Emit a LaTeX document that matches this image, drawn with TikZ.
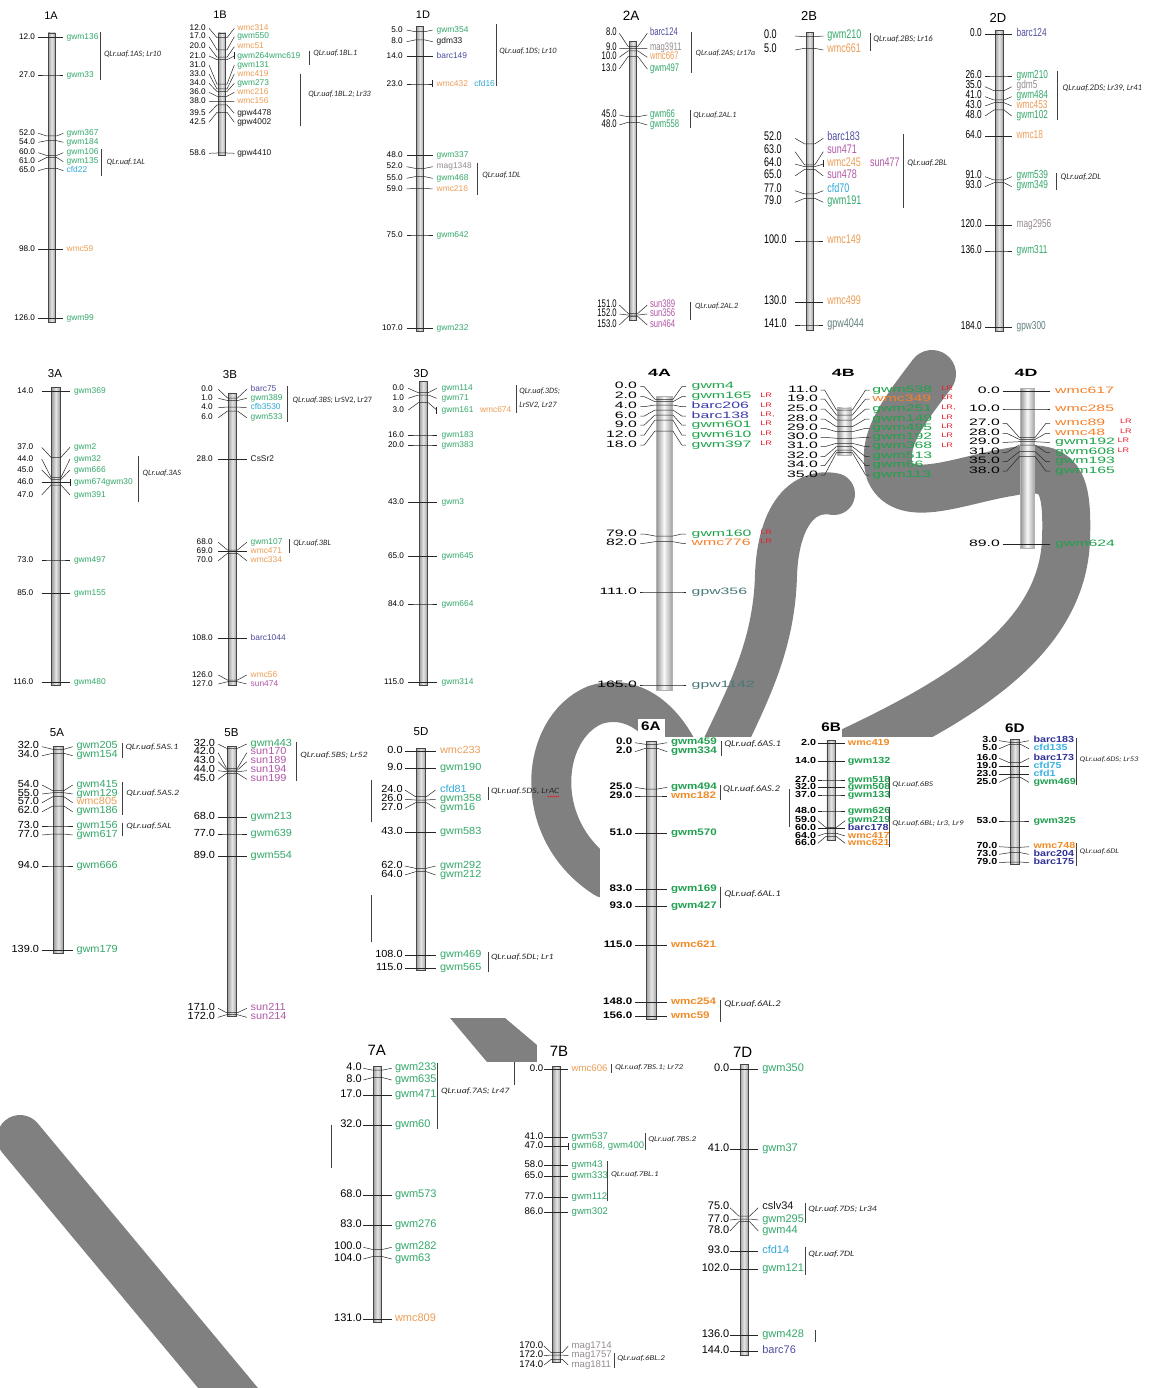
\documentclass[tikz,border=0pt]{standalone}
\usepackage{fontspec}
\usetikzlibrary{decorations.pathmorphing}
\newfontfamily\fA{Liberation Sans}
\newfontfamily\fN[FakeStretch=0.72]{Liberation Sans}
\newfontfamily\fNa[FakeStretch=0.70]{Liberation Sans}
\newfontfamily\fW[FakeStretch=1.7]{Liberation Sans}
\newfontfamily\fLR[FakeStretch=1.4]{Liberation Sans}
\newfontfamily\fB[FakeStretch=1.22]{Liberation Sans}
\newfontfamily\fM[FakeStretch=1.06]{Liberation Sans}
\newfontfamily\fQ{Carlito}
\newfontfamily\fQW[FakeStretch=1.2]{Carlito}
\newcommand\fs[1]{\fontsize{#1}{#1}\selectfont}
\definecolor{cg}{RGB}{52,168,106}
\definecolor{co}{RGB}{236,158,86}
\definecolor{cb}{RGB}{78,78,160}
\definecolor{cs}{RGB}{178,88,168}
\definecolor{cc}{RGB}{48,168,214}
\definecolor{cm}{RGB}{150,140,140}
\definecolor{ck}{RGB}{25,25,25}
\definecolor{ct}{RGB}{100,128,128}
\definecolor{cg4}{RGB}{28,164,74}
\definecolor{co4}{RGB}{246,128,40}
\definecolor{cb4}{RGB}{58,58,170}
\definecolor{ct4}{RGB}{72,120,120}
\definecolor{clr}{RGB}{235,30,40}
\definecolor{cg6}{RGB}{32,160,80}
\definecolor{co6}{RGB}{240,140,40}
\definecolor{cb6}{RGB}{48,48,150}
\definecolor{cc6}{RGB}{60,178,228}
\definecolor{cq}{RGB}{40,40,40}
\definecolor{wmg}{RGB}{128,128,128}
\tikzset{
 mline/.style={draw=black!85,line width=0.5pt},
 qline/.style={draw=black!75,line width=0.7pt},
 lab/.style={inner sep=0pt,outer sep=0pt},
 wmark/.style={draw=wmg,line cap=round},
}
\newcounter{mk}
\def\NA{mid east}\def\HS{0}
\newcommand\setchr[6]{\def\CX{#1}\def\NX{#2}\def\LX{#3}\def\RX{#4}\def\TX{#5}\def\KK{#6}}
\newcommand\mkcore[5]{%
 \stepcounter{mk}%
 \coordinate (ml\themk) at (\LX,#2);%
 \coordinate (mr\themk) at (\RX,#2);%
 \coordinate (bl\themk) at ({\CX-\KK},#1);%
 \coordinate (br\themk) at ({\CX+\KK},#1);%
 \draw[mline] (ml\themk) -- ([xshift=\HS pt]ml\themk) -- (bl\themk) -- (br\themk) -- ([xshift=-\HS pt]mr\themk) -- (mr\themk);%
 \node[lab,font=\numf,anchor=\NA] (mn\themk) at (\NX,#2) {#3};%
 \node[lab,font=\namef,text=#5,anchor=mid west] (mt\themk) at (\TX,#2) {#4};%
}
\newcommand\mk[5]{\mkcore{#1}{#2}{#3}{#4}{#5}}
\newcommand\mkt[5]{\mkcore{#1}{#2}{#3}{#4}{#5}\draw[mline] ([yshift=3.5pt]mr\themk) -- ([yshift=-3.5pt]mr\themk);}
\newcommand\xn[4]{\stepcounter{mk}\node[lab,font=\namef,text=#4,anchor=mid west] (xn\themk) at (#1,#2) {#3};}
\newcommand\lr[3]{\stepcounter{mk}\node[lab,font=\lrf,text=clr,anchor=mid west] (lr\themk) at (#1,{#2-1.5}) {#3};}
\newcommand\qtl[6]{\stepcounter{mk}%
 \coordinate (qa\themk) at (#1,#2); \coordinate (qb\themk) at (#1,#3);%
 \draw[qline] (qa\themk) -- (qb\themk);%
 \node[lab,font=\qf,text=cq,anchor=mid west] (ql\themk) at (#4,#5) {#6};}
\newcommand\ttl[4]{\node[lab,font=#4] (ttl#3) at (#1,#2) {#3};}
\newcommand\chbar[4]{\shade[left color=gray!75,right color=gray!75,middle color=gray!20] (#1,#3) rectangle (#2,#4);
 \draw[gray!55!black,line width=0.5pt] (#1,#3) rectangle (#2,#4);}
\newcommand\chbarB[4]{\shade[left color=gray!85,right color=gray!70,middle color=gray!5] (#1,#3) rectangle (#2,#4);
 \draw[gray!60,line width=0.4pt] (#1,#3) rectangle (#2,#4);}
\newcommand\sline[3]{\stepcounter{mk}\coordinate (sa\themk) at (#1,#2); \coordinate (sb\themk) at (#1,#3); \draw[qline] (sa\themk) -- (sb\themk);}
\begin{document}
\begin{tikzpicture}[x=1pt,y=-1pt]
\useasboundingbox (0,0) rectangle (1149,1388);
\fill[white] (0,0) rectangle (1149,1388);
% ================= WATERMARK (background) =================
\draw[wmark,line width=46pt] (20,1138) -- (253,1418);
\draw[wmark,line width=48pt] (932,374) .. controls (905,410) and (880,440) .. (890,472)
   .. controls (905,505) and (960,480) .. (1010,472)
   .. controls (1060,462) and (1068,480) .. (1066,540)
   .. controls (1062,640) and (960,700) .. (850,752);
\draw[wmark,line width=42pt] (834,494) .. controls (800,488) and (778,520) .. (776,575)
   .. controls (774,650) and (745,700) .. (712,770);
\draw[wmark,line width=40pt] (690,780) .. controls (672,722) and (635,692) .. (595,705)
   .. controls (540,728) and (530,830) .. (605,878);
\fill[wmg] (450,1018) -- (505,1018) -- (537,1045) -- (537,1062) -- (487,1062) -- cycle;
% panel backgrounds cutting the watermark
\fill[white] (600,737) rectangle (1149,1030);
\fill[white] (638,719) rectangle (665,737);
\fill[white] (822,719) rectangle (842,737);
\fill[white] (487,1062) rectangle (700,1388);
\fill[white] (537,1030) rectangle (585,1062);
% ================= ROW 1 =================
\def\numf{\fA\fs{8.2}}\def\namef{\fA\fs{8.4}}\def\qf{\fQ\itshape\fs{8.2}}
% ---- 1A
\setchr{51.7}{35}{38.3}{63.3}{66.7}{5}
\ttl{51}{16}{1A}{\fA\fs{11}}
\chbar{48.2}{55.2}{33}{322}
\mk{37.3}{37.3}{12.0}{gwm136}{cg}
\mk{75}{75}{27.0}{gwm33}{cg}
\mk{136}{133.3}{52.0}{gwm367}{cg}
\mk{140.7}{142.3}{54.0}{gwm184}{cg}
\mk{155.5}{152.7}{60.0}{gwm106}{cg}
\mk{157.5}{161.7}{61.0}{gwm135}{cg}
\mk{168.3}{170.7}{65.0}{cfd22}{cc}
\mk{249.3}{249.3}{98.0}{wmc59}{co}
\mk{318.3}{318.3}{126.0}{gwm99}{cg}
\qtl{100.7}{32.3}{80}{104}{54}{QLr.uaf.1AS; Lr10}
\qtl{101.7}{149}{176}{106.7}{162.7}{QLr.uaf.1AL}
% ---- 1B
\setchr{222}{205.7}{209}{234.3}{237.3}{5}
\ttl{220}{15}{1B}{\fA\fs{11}}
\chbar{218.3}{225.7}{33}{155}
\mk{37.7}{28.3}{12.0}{wmc314}{co}
\mk{49.9}{36.7}{17.0}{gwm550}{cg}
\mk{57.2}{46.7}{20.0}{wmc51}{co}
\mkt{59.7}{56}{21.0}{gwm264wmc619}{cg}
\mk{84.2}{65}{31.0}{gwm131}{cg}
\mk{89}{74}{33.0}{wmc419}{co}
\mk{91.5}{83.3}{34.0}{gwm273}{cg}
\mk{96.3}{92.3}{36.0}{wmc216}{co}
\mk{101.3}{101.7}{38.0}{wmc156}{co}
\mk{105}{113.3}{39.5}{gpw4478}{ck}
\mk{112.3}{122.3}{42.5}{gpw4002}{ck}
\mk{153}{153.3}{58.6}{gpw4410}{ck}
\qtl{309}{50.7}{65}{313.3}{53.3}{QLr.uaf.1BL.1}
\qtl{300}{74}{126}{308.3}{94.3}{QLr.uaf.1BL.2; Lr33}
% ---- 1D
\setchr{420}{402.7}{406.7}{432.7}{436.7}{5}
\ttl{423}{15}{1D}{\fA\fs{11}}
\chbar{416.3}{423.7}{26.7}{331.7}
\mk{31.7}{30}{5.0}{gwm354}{cg}
\mk{40}{41.7}{8.0}{gdm33}{ck}
\mk{56.7}{56.7}{14.0}{barc149}{cb}
\mkt{84}{84}{23.0}{wmc432}{co}
\xn{474.3}{84}{cfd16}{cc}
\mk{155.7}{155.7}{48.0}{gwm337}{cg}
\mk{168.3}{166.7}{52.0}{mag1348}{cm}
\mk{176.7}{178.3}{55.0}{gwm468}{cg}
\mk{188.3}{189}{59.0}{wmc216}{co}
\mk{235}{235}{75.0}{gwm642}{cg}
\mk{328.3}{328.3}{107.0}{gwm232}{cg}
\qtl{496.7}{24}{86}{499.3}{51.7}{QLr.uaf.1DS; Lr10}
\qtl{477.3}{162.7}{195}{482.3}{175.7}{QLr.uaf.1DL}
% ---- 2A
\def\numf{\fNa\fs{11}}\def\namef{\fNa\fs{11}}\def\qf{\fQ\itshape\fs{8}}
\setchr{633}{616.7}{619.3}{647.3}{650}{5}
\ttl{631}{16}{2A}{\fA\fs{13.5}}
\chbar{629.3}{636.7}{41.7}{320}
\mk{46.3}{33.3}{8.0}{barc124}{cb}
\mk{48.7}{48.3}{9.0}{mag3911}{cm}
\mk{51}{57.3}{10.0}{wmc667}{co}
\mk{56.7}{69}{13.0}{gwm497}{cg}
\mk{116.7}{115}{45.0}{gwm66}{cg}
\mk{122.3}{125}{48.0}{gwm558}{cg}
\mk{313.3}{305}{151.0}{sun389}{cs}
\mk{315}{314}{152.0}{sun356}{cs}
\mk{316.7}{325}{153.0}{sun464}{cs}
\qtl{691.7}{31.7}{73.3}{695.7}{53.3}{QLr.uaf.2AS; Lr17a}
\qtl{690}{110}{128.3}{693.3}{115.7}{QLr.uaf.2AL.1}
\qtl{690}{301.7}{320}{695}{306.7}{QLr.uaf.2AL.2}
% ---- 2B
\def\numf{\fN\fs{12.5}}\def\namef{\fN\fs{12.5}}\def\qf{\fQ\itshape\fs{8.6}}
\def\NA{mid west}
\setchr{809.7}{764}{795}{823.3}{827.3}{5}
\ttl{809}{16}{2B}{\fA\fs{13}}
\chbar{806}{813.3}{32.7}{330}
\mk{36.7}{36}{0.0}{gwm210}{cg}
\mk{48.3}{50}{5.0}{wmc661}{co}
\mk{144}{138.3}{52.0}{barc183}{cb}
\mk{165}{151.7}{63.0}{sun471}{cs}
\mkt{166.7}{164}{64.0}{wmc245}{co}
\xn{870}{164}{sun477}{cs}
\mk{169.3}{176}{65.0}{sun478}{cs}
\mk{194}{190.7}{77.0}{cfd70}{cc}
\mk{198.3}{202.3}{79.0}{gwm191}{cg}
\mk{241}{241}{100.0}{wmc149}{co}
\mk{302.3}{302.3}{130.0}{wmc499}{co}
\mk{325}{325}{141.0}{gpw4044}{ct}
\qtl{870}{33.3}{50.7}{873.3}{39}{QLr.uaf.2BS; Lr16}
\qtl{903.3}{134.3}{208.3}{907.3}{163.3}{QLr.uaf.2BL}
\def\NA{mid east}
% ---- 2D
\def\numf{\fN\fs{11.5}}\def\namef{\fN\fs{11.5}}
\setchr{999}{981.7}{985}{1011.7}{1016.7}{5}
\ttl{998}{18}{2D}{\fA\fs{13}}
\chbar{995}{1003.3}{30.7}{331.7}
\mk{34.3}{34.3}{0.0}{barc124}{cb}
\mk{76}{76}{26.0}{gwm210}{cg}
\mk{90.7}{86.7}{35.0}{gdm5}{cm}
\mk{100}{96.7}{41.0}{gwm484}{cg}
\mk{102.7}{106}{43.0}{wmc453}{co}
\mk{110}{116}{48.0}{gwm102}{cg}
\mk{136.7}{136.7}{64.0}{wmc18}{co}
\mk{180}{176.7}{91.0}{gwm539}{cg}
\mk{182.7}{186.7}{93.0}{gwm349}{cg}
\mk{225.7}{225.7}{120.0}{mag2956}{cm}
\mk{251}{251}{136.0}{gwm311}{cg}
\mk{327.7}{327.7}{184.0}{gpw300}{ct}
\qtl{1057.7}{71}{120}{1062.7}{88.3}{QLr.uaf.2DS; Lr39, Lr41}
\qtl{1056.7}{173.3}{190}{1060.7}{177.7}{QLr.uaf.2DL}
% ================= ROW 2 =================
\def\numf{\fA\fs{8.2}}\def\namef{\fA\fs{8.4}}\def\qf{\fQ\itshape\fs{8.2}}
% ---- 3A
\setchr{56}{33.3}{41.7}{70}{74}{5}
\ttl{55}{374}{3A}{\fA\fs{11.5}}
\chbar{51.7}{60}{387.3}{685}
\mk{391.7}{391.7}{14.0}{gwm369}{cg}
\mk{457.3}{447.3}{37.0}{gwm2}{cg}
\mk{477.3}{459}{44.0}{gwm32}{cg}
\mk{479.3}{470}{45.0}{gwm666}{cg}
\mkt{482.7}{482.7}{46.0}{gwm674gwm30}{cg}
\mk{485}{495}{47.0}{gwm391}{cg}
\mk{560}{560}{73.0}{gwm497}{cg}
\mk{593.3}{593.3}{85.0}{gwm155}{cg}
\mk{682.3}{682.3}{116.0}{gwm480}{cg}
\qtl{138.3}{456}{501.7}{142.7}{473.3}{QLr.uaf.3AS}
% ---- 3B
\setchr{232.5}{212.7}{218.3}{246.7}{250.7}{5}
\ttl{230}{375}{3B}{\fA\fs{11.5}}
\chbar{228.3}{236.7}{393.3}{685}
\mk{398}{389.3}{0.0}{barc75}{cb}
\mk{400.5}{398.3}{1.0}{gwm389}{cg}
\mk{407}{407.7}{4.0}{cfb3530}{cc}
\mk{411}{417.7}{6.0}{gwm533}{cg}
\mk{459.3}{459.3}{28.0}{CsSr2}{ck}
\mk{550}{542.3}{68.0}{gwm107}{cg}
\mk{551.7}{551.7}{69.0}{wmc471}{co}
\mk{553.3}{560.7}{70.0}{wmc334}{co}
\mk{638.3}{638.3}{108.0}{barc1044}{cb}
\mk{680}{675}{126.0}{wmc56}{co}
\mk{681.7}{684}{127.0}{sun474}{cs}
\qtl{287.7}{386}{421.7}{292.7}{400.7}{QLr.uaf.3BS; {\upshape LrSV2, Lr27}}
\qtl{289}{539.3}{553.3}{293.3}{543.3}{QLr.uaf.3BL}
% ---- 3D
\setchr{423.3}{404}{408.3}{436.7}{441.7}{5}
\ttl{421}{374}{3D}{\fA\fs{11.5}}
\chbar{419.3}{427.3}{381.7}{685}
\mk{392.7}{388.3}{0.0}{gwm114}{cg}
\mk{395}{398.3}{1.0}{gwm71}{cg}
\mkt{402.7}{410}{3.0}{gwm161}{cg}
\xn{480}{410}{wmc674}{co}
\mk{435}{435}{16.0}{gwm183}{cg}
\mk{445}{445}{20.0}{gwm383}{cg}
\mk{502.3}{502.3}{43.0}{gwm3}{cg}
\mk{556.7}{556.7}{65.0}{gwm645}{cg}
\mk{604}{604}{84.0}{gwm664}{cg}
\mk{682.3}{682.3}{115.0}{gwm314}{cg}
\qtl{516.7}{385}{413.3}{519.3}{391.7}{QLr.uaf.3DS;}
\stepcounter{mk}\node[lab,font=\qf,text=cq,anchor=mid west] (ql2\themk) at (519.3,405.7) {LrSV2, Lr27};
% ---- 4A
\def\numf{\fW\fs{9.3}}\def\namef{\fW\fs{9.3}}\def\lrf{\fLR\fs{6.5}}
\def\HS{4}
\setchr{663.9}{636.8}{640.3}{685.8}{691.7}{9}
\ttl{659.5}{373}{4A}{\fW\bfseries\fs{10.5}}
\chbarB{656}{671.8}{396}{690}
\mk{399.3}{386.7}{0.0}{gwm4}{cg4}
\mk{401.7}{396.7}{2.0}{gwm165}{cg4}\lr{760.4}{396.7}{LR}
\mk{405}{406.7}{4.0}{barc206}{cb4}\lr{760.4}{406.7}{LR}
\mk{410}{416}{6.0}{barc138}{cb4}\lr{760.4}{416}{LR,}
\mk{415}{425}{9.0}{gwm601}{cg4}\lr{760.4}{425}{LR}
\mk{420}{435}{12.0}{gwm610}{cg4}\lr{760.4}{435}{LR}
\mk{431}{445}{18.0}{gwm397}{cg4}\lr{760.4}{445}{LR}
\mk{536}{534}{79.0}{gwm160}{cg4}\lr{760.4}{534}{LR}
\mk{541.7}{543.3}{82.0}{wmc776}{co4}\lr{760.4}{543.3}{LR}
\mk{592}{592}{111.0}{gpw356}{ct4}
\mk{685}{685}{165.0}{gpw1142}{ct4}
% ---- 4B
\setchr{844.4}{817.8}{820.6}{869.6}{872.4}{8}
\ttl{843.3}{373}{4B}{\fW\bfseries\fs{10.5}}
\chbarB{837.4}{851.4}{407.7}{455}
\mk{410}{390}{11.0}{gwm538}{cg4}\lr{941.4}{390}{LR}
\mk{415}{399}{19.0}{wmc349}{co4}\lr{941.4}{399}{LR}
\mk{420}{409}{25.0}{gwm251}{cg4}\lr{941.4}{409}{LR,}
\mk{426.7}{419}{28.0}{gwm149}{cg4}\lr{941.4}{419}{LR}
\mk{431.7}{428.3}{29.0}{gwm495}{cg4}\lr{941.4}{428.3}{LR}
\mk{438.3}{437.3}{30.0}{gwm192}{cg4}\lr{941.4}{437.3}{LR}
\mk{443.3}{446.7}{31.0}{gwm368}{cg4}\lr{941.4}{446.7}{LR}
\mk{446.7}{456.7}{32.0}{gwm513}{cg4}
\mk{450}{465.7}{34.0}{gwm66}{cg4}
\mk{452.7}{475}{35.0}{gwm113}{cg4}
% ---- 4D
\setchr{1027.2}{999.9}{1002.7}{1049.9}{1055.2}{8}
\ttl{1026}{373}{4D}{\fW\bfseries\fs{10.5}}
\chbarB{1020.2}{1034.2}{388.3}{548.3}
\mk{391.7}{391.7}{0.0}{wmc617}{co4}
\mk{409}{409}{10.0}{wmc285}{co4}
\mk{437.3}{423.3}{27.0}{wmc89}{co4}\lr{1120}{423.3}{LR}
\mk{439.3}{433.3}{28.0}{wmc48}{co4}\lr{1120}{433.3}{LR}
\mk{441.7}{442.3}{29.0}{gwm192}{cg4}\lr{1117.5}{442.3}{LR}
\mk{445}{452.3}{31.0}{gwm608}{cg4}\lr{1117.5}{452.3}{LR}
\mk{451.7}{461.7}{35.0}{gwm193}{cg4}
\mk{456.7}{471}{38.0}{gwm165}{cg4}
\mk{544.3}{544.3}{89.0}{gwm624}{cg4}
\def\HS{0}
% ================= ROW 3 =================
\def\numf{\fM\fs{10.3}}\def\namef{\fM\fs{10.3}}\def\qf{\fQW\itshape\fs{8.1}}
% ---- 5A
\setchr{58.3}{39}{42.1}{72.7}{76.5}{5.5}
\ttl{57}{732.7}{5A}{\fA\fs{11.5}}
\chbar{53.6}{63.1}{746.7}{953.3}
\mk{749.3}{746.7}{32.0}{gwm205}{cg}
\mk{753.3}{755.7}{34.0}{gwm154}{cg}
\mk{790.7}{785}{54.0}{gwm415}{cg}
\mk{792.7}{794}{55.0}{gwm129}{cg}
\mk{796.7}{802.7}{57.0}{wmc805}{co}
\mk{806}{811.7}{62.0}{gwm186}{cg}
\mk{826}{826}{73.0}{gwm156}{cg}
\mk{834}{835}{77.0}{gwm617}{cg}
\mk{866}{866}{94.0}{gwm666}{cg}
\mk{950.7}{950.7}{139.0}{gwm179}{cg}
\qtl{122.5}{743.3}{758.3}{125.5}{747.7}{QLr.uaf.5AS.1}
\qtl{122.5}{781.7}{815}{126.3}{793.3}{QLr.uaf.5AS.2}
\qtl{122.5}{822.7}{836}{126.3}{826.7}{QLr.uaf.5AL}
% ---- 5B
\setchr{232}{215}{218.1}{246.8}{250.7}{5.5}
\ttl{231.5}{732.7}{5B}{\fA\fs{11.5}}
\chbar{227.7}{236.5}{746.7}{1016}
\mk{748.3}{744}{32.0}{gwm443}{cg}
\mk{768.3}{752.7}{42.0}{sun170}{cs}
\mk{770}{761.7}{43.0}{sun189}{cs}
\mk{771.7}{770.7}{44.0}{sun194}{cs}
\mk{773.3}{779.3}{45.0}{sun199}{cs}
\mk{817.3}{817.3}{68.0}{gwm213}{cg}
\mk{834}{834}{77.0}{gwm639}{cg}
\mk{856.7}{856.7}{89.0}{gwm554}{cg}
\mk{1012.7}{1008.3}{171.0}{sun211}{cs}
\mk{1014.7}{1017.3}{172.0}{sun214}{cs}
\qtl{296.6}{741.7}{780.7}{300.4}{755}{QLr.uaf.5BS; Lr52}
% ---- 5D
\setchr{421}{402.6}{404.9}{435.5}{440.1}{5.5}
\ttl{421}{731.7}{5D}{\fA\fs{11.5}}
\chbar{416.4}{425.6}{748.3}{970.7}
\mk{751.7}{751.7}{0.0}{wmc233}{co}
\mk{768.3}{768.3}{9.0}{gwm190}{cg}
\mk{796.7}{790}{24.0}{cfd81}{cc}
\mk{800}{799.3}{26.0}{gwm358}{cg}
\mk{802.7}{808.3}{27.0}{gwm16}{cg}
\mk{832.3}{832.3}{43.0}{gwm583}{cg}
\mk{868.3}{866}{62.0}{gwm292}{cg}
\mk{871.7}{875}{64.0}{gwm212}{cg}
\mk{955.3}{955.3}{108.0}{gwm469}{cg}
\mk{968.3}{968.3}{115.0}{gwm565}{cg}
\qtl{488}{786.7}{800}{491}{791.7}{QLr.uaf.5DS, LrAC}
\draw[clr,line width=0.4pt,decorate,decoration={zigzag,amplitude=0.6pt,segment length=2pt}] ([xshift=-12pt,yshift=-1.5pt]ql\themk.south east) -- ([yshift=-1.5pt]ql\themk.south east);
\qtl{488}{951.7}{971.7}{491}{957.3}{QLr.uaf.5DL; Lr1}
\sline{371.2}{780}{821.7}
\sline{371.2}{895}{941.7}
% ---- 6A
\def\numf{\fB\bfseries\fs{9.5}}\def\namef{\fB\bfseries\fs{9.5}}\def\qf{\fQW\itshape\fs{8.7}}
\setchr{651.4}{632.2}{635}{667.2}{671}{6}
\ttl{650.8}{726}{6A}{\fB\bfseries\fs{12.5}}
\chbar{646.2}{656.7}{741.7}{1019.3}
\mk{744.3}{742.7}{0.0}{gwm459}{cg6}
\mk{748.3}{751.7}{2.0}{gwm334}{cg6}
\mk{789}{787.3}{25.0}{gwm494}{cg6}
\mk{796}{796}{29.0}{wmc182}{co6}
\mk{833.3}{833.3}{51.0}{gwm570}{cg6}
\mk{889.3}{889.3}{83.0}{gwm169}{cg6}
\mk{906.7}{906.7}{93.0}{gwm427}{cg6}
\mk{945}{945}{115.0}{wmc621}{co6}
\mk{1002.3}{1002.3}{148.0}{wmc254}{co6}
\mk{1016}{1016}{156.0}{wmc59}{co6}
\qtl{721.5}{740.7}{755.7}{724.3}{744.3}{QLr.uaf.6AS.1}
\qtl{720.1}{785}{800}{723.2}{789.3}{QLr.uaf.6AS.2}
\qtl{720.1}{886.7}{908.3}{724.3}{894.3}{QLr.uaf.6AL.1}
\qtl{720.1}{1000}{1021.7}{724.3}{1004.3}{QLr.uaf.6AL.2}
% ---- 6B
\def\numf{\fB\bfseries\fs{8.8}}\def\namef{\fB\bfseries\fs{8.8}}\def\qf{\fQW\itshape\fs{7.3}}
\setchr{831.1}{816}{817.8}{845.1}{847.9}{5.5}
\ttl{831.1}{726.7}{6B}{\fB\bfseries\fs{12.5}}
\chbar{826.9}{835.3}{740.7}{840}
\mk{743.3}{743.3}{2.0}{wmc419}{co6}
\mk{761.7}{761.7}{14.0}{gwm132}{cg6}
\mk{780}{780}{27.0}{gwm518}{cg6}
\mk{787.7}{787.7}{32.0}{gwm508}{cg6}
\mk{795}{795}{37.0}{gwm133}{cg6}
\mk{811}{811}{48.0}{gwm626}{cg6}
\mk{827.3}{820.7}{59.0}{gwm219}{cg6}
\mk{828.3}{828.3}{60.0}{barc178}{cb6}
\mk{833.3}{836}{64.0}{wmc417}{co6}
\mk{836.7}{843.3}{66.0}{wmc621}{co6}
\qtl{888.9}{776.7}{798.3}{892.4}{784}{QLr.uaf.6BS}
\qtl{888.9}{807.3}{847.3}{892.4}{823.3}{QLr.uaf.6BL; Lr3, Lr9}
\sline{789.1}{789.3}{826.7}
% ---- 6D
\def\qf{\fQW\itshape\fs{7}}
\setchr{1015}{997.4}{999.2}{1028.9}{1033.5}{5.5}
\ttl{1014.9}{728.3}{6D}{\fB\bfseries\fs{12.5}}
\chbar{1010.4}{1019.5}{739.3}{864}
\mk{742.3}{740.7}{3.0}{barc183}{cb6}
\mk{744.3}{748.7}{5.0}{cfd135}{cc6}
\mk{762.7}{758.3}{16.0}{barc173}{cb6}
\mk{766.7}{766.7}{19.0}{cfd75}{cc6}
\mk{774.3}{774.3}{23.0}{cfd1}{cc6}
\mk{777.3}{782.3}{25.0}{gwm469}{cg6}
\mk{821}{821}{53.0}{gwm325}{cg6}
\mk{847.3}{846.7}{70.0}{wmc748}{co6}
\mk{852.7}{854.3}{73.0}{barc204}{cb6}
\mk{862}{862.7}{79.0}{barc175}{cb6}
\qtl{1076.2}{738.3}{785}{1079.7}{759}{QLr.uaf.6DS; Lr53}
\qtl{1076.2}{843.3}{866}{1079.7}{851.7}{QLr.uaf.6DL}
% ================= ROW 4 =================
\def\numf{\fA\fs{11}}\def\namef{\fA\fs{11}}\def\qf{\fQW\itshape\fs{8.2}}
% ---- 7A
\setchr{377.5}{361.7}{363.3}{391.7}{395}{5.5}
\ttl{376.7}{1050}{7A}{\fA\fs{15}}
\chbar{373.3}{381.7}{1066}{1322.7}
\mk{1070}{1068.3}{4.0}{gwm233}{cg}
\mk{1077.7}{1080}{8.0}{gwm635}{cg}
\mk{1095.7}{1095.7}{17.0}{gwm471}{cg}
\mk{1125}{1125}{32.0}{gwm60}{cg}
\mk{1195.7}{1195.7}{68.0}{gwm573}{cg}
\mk{1225}{1225}{83.0}{gwm276}{cg}
\mk{1249.3}{1247.3}{100.0}{gwm282}{cg}
\mk{1256.7}{1259}{104.0}{gwm63}{cg}
\mk{1319.3}{1319.3}{131.0}{wmc809}{co}
\qtl{437.3}{1063.3}{1129.3}{441}{1091.7}{QLr.uaf.7AS; Lr47}
\sline{331}{1125}{1168}
\sline{514}{1061.7}{1085}
% ---- 7B
\def\numf{\fA\fs{9.6}}\def\namef{\fA\fs{9.6}}\def\qf{\fQW\itshape\fs{7.4}}
\setchr{556.7}{543.3}{544}{568.3}{571.7}{5.5}
\ttl{559}{1051.7}{7B}{\fA\fs{15}}
\chbar{552.7}{560.7}{1066}{1362.7}
\mk{1069}{1069}{0.0}{wmc606}{co}
\mk{1137.3}{1137.3}{41.0}{gwm537}{cg}
\mkt{1146.7}{1146.7}{47.0}{gwm68, gwm400}{cg}
\mk{1165}{1165}{58.0}{gwm43}{cg}
\mk{1176.7}{1176.7}{65.0}{gwm333}{cg}
\mk{1197.3}{1197.3}{77.0}{gwm112}{cg}
\mk{1212.3}{1212.3}{86.0}{gwm302}{cg}
\mk{1352.7}{1346}{170.0}{mag1714}{cm}
\mk{1355}{1355.7}{172.0}{mag1757}{cm}
\mk{1359.3}{1365}{174.0}{mag1811}{cm}
\qtl{611.7}{1064.3}{1073.3}{615}{1067.7}{QLr.uaf.7BS.1; Lr72}
\qtl{645}{1133.3}{1150}{648.3}{1139.3}{QLr.uaf.7BS.2}
\qtl{607.3}{1161}{1200.7}{611}{1174.3}{QLr.uaf.7BL.1}
\qtl{614.3}{1352.7}{1368.3}{617.3}{1358.3}{QLr.uaf.6BL.2}
% ---- 7D
\def\numf{\fA\fs{11}}\def\namef{\fA\fs{11}}\def\qf{\fQW\itshape\fs{8.2}}
\setchr{744.2}{729.3}{730}{758.3}{762.3}{5.5}
\ttl{742.7}{1052.7}{7D}{\fA\fs{15}}
\chbar{740}{748.3}{1064.3}{1355}
\mk{1069.3}{1069.3}{0.0}{gwm350}{cg}
\mk{1149.3}{1149.3}{41.0}{gwm37}{cg}
\mk{1216}{1207.7}{75.0}{cslv34}{ck}
\mk{1219}{1220}{77.0}{gwm295}{cg}
\mk{1221.7}{1231}{78.0}{gwm44}{cg}
\mk{1251.7}{1251.7}{93.0}{cfd14}{cc}
\mk{1269.3}{1269.3}{102.0}{gwm121}{cg}
\mk{1335}{1335}{136.0}{gwm428}{cg}
\mk{1351.7}{1351.7}{144.0}{barc76}{cb}
\qtl{805}{1203.3}{1223.3}{808.3}{1209}{QLr.uaf.7DS; Lr34}
\qtl{805}{1246.7}{1275}{808.3}{1254.3}{QLr.uaf.7DL}
\sline{815}{1330}{1341.7}
\end{tikzpicture}
\end{document}
